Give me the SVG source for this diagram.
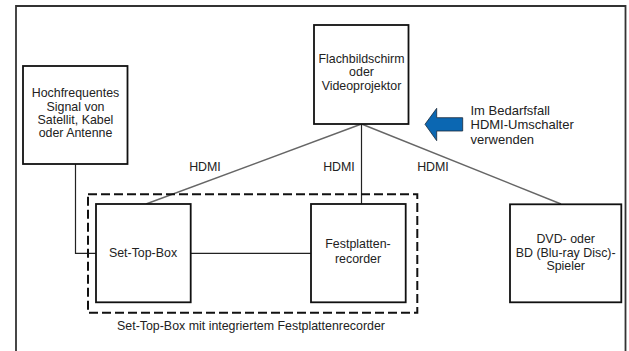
<svg xmlns="http://www.w3.org/2000/svg" width="629" height="351" viewBox="0 0 629 351">
<style>
.box{fill:#fff;stroke:#111;stroke-width:1.8}
.t{font-family:"Liberation Sans",Arial,sans-serif;font-size:12.4px;fill:#222;text-anchor:middle}
.n{font-family:"Liberation Sans",Arial,sans-serif;font-size:13px;fill:#222}
.c{fill:none;stroke:#222;stroke-width:1.2}
.g{fill:none;stroke:#666;stroke-width:1.4}
</style>
<rect width="629" height="351" fill="#fff"/>
<path d="M16 360 V6 H625.5 V360" fill="none" stroke="#333" stroke-width="1.8"/>
<g id="connectors">
<path class="g" d="M361.5 124 L146 204"/>
<path class="c" d="M361.5 124 V204"/>
<path class="g" d="M361.5 124 L561 204"/>
<path class="c" d="M75.5 164 V253.3 H96"/>
<path class="c" d="M191 253.3 H311"/>
<text class="t" x="205" y="171">HDMI</text>
<text class="t" x="339" y="171">HDMI</text>
<text class="t" x="433" y="171">HDMI</text>
</g>
<g id="group">
<rect x="88" y="194.3" width="329.3" height="118.4" fill="none" stroke="#111" stroke-width="2" stroke-dasharray="9 4"/>
<text class="t" x="251" y="330">Set-Top-Box mit integriertem Festplattenrecorder</text>
</g>
<g id="signal">
<rect class="box" x="23" y="66" width="104.5" height="98"/>
<text class="t" x="75.5" y="97">Hochfrequentes</text>
<text class="t" x="75.5" y="110.5">Signal von</text>
<text class="t" x="75.5" y="124">Satellit, Kabel</text>
<text class="t" x="75.5" y="137">oder Antenne</text>
</g>
<g id="screen">
<rect class="box" x="314" y="25" width="94.5" height="99"/>
<text class="t" x="361.5" y="62.5">Flachbildschirm</text>
<text class="t" x="361.5" y="76">oder</text>
<text class="t" x="361.5" y="89.5">Videoprojektor</text>
</g>
<g id="stb">
<rect class="box" x="96" y="204" width="94.7" height="98.3"/>
<text class="t" x="143" y="257">Set-Top-Box</text>
</g>
<g id="recorder">
<rect class="box" x="311" y="204" width="94.7" height="98.3"/>
<text class="t" x="358" y="248">Festplatten-</text>
<text class="t" x="358" y="262.5">recorder</text>
</g>
<g id="dvd">
<rect class="box" x="510" y="204.3" width="111.3" height="98"/>
<text class="t" x="565.7" y="243">DVD- oder</text>
<text class="t" x="565.7" y="256.5">BD (Blu-ray Disc)-</text>
<text class="t" x="565.7" y="269.5">Spieler</text>
</g>
<g id="note">
<path d="M425 124.3 L436.7 108.3 V117.7 H462.7 V131 H436.7 V140.7 Z" fill="#0b67b2" stroke="#1a2a3a" stroke-width="0.8"/>
<text class="n" x="470.5" y="115">Im Bedarfsfall</text>
<text class="n" x="470.5" y="129">HDMI-Umschalter</text>
<text class="n" x="470.5" y="143.5">verwenden</text>
</g>
</svg>
